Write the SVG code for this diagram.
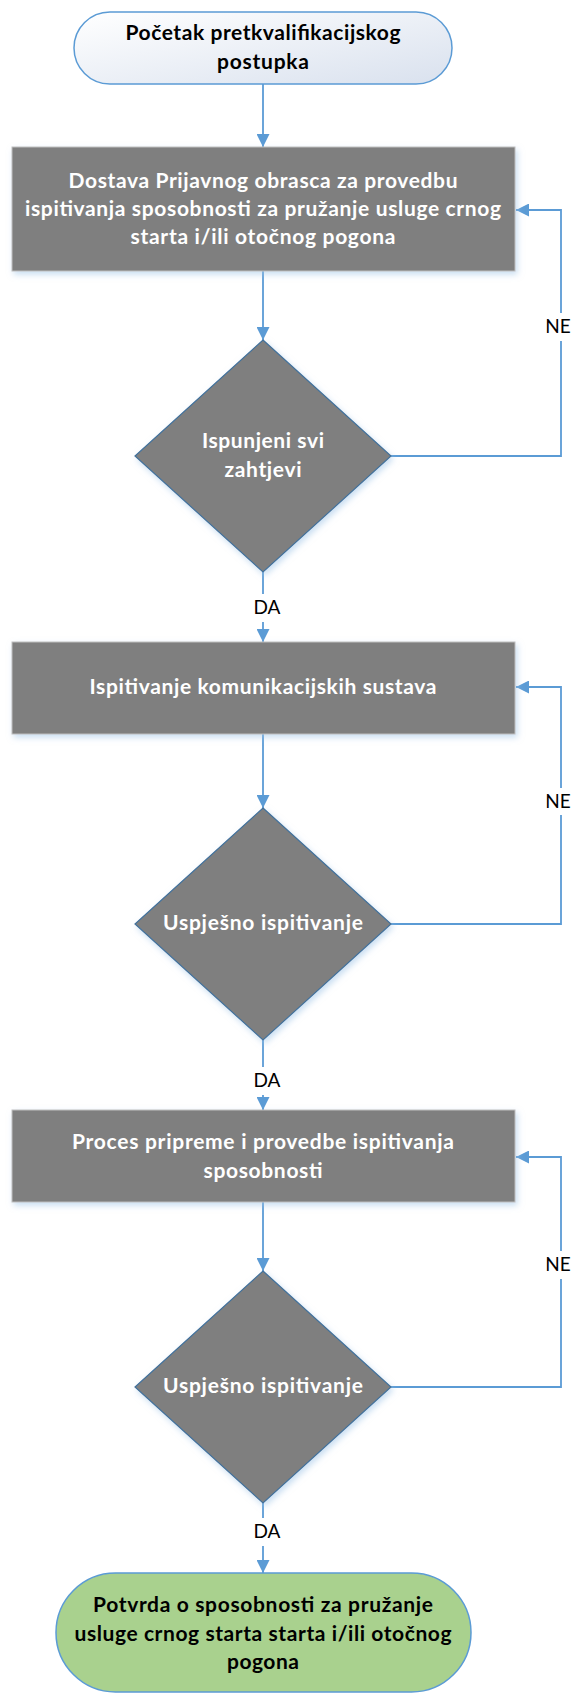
<svg xmlns="http://www.w3.org/2000/svg" width="576" height="1695" viewBox="0 0 576 1695">
<defs>
<linearGradient id="gStart" x1="0" y1="0" x2="1" y2="1">
<stop offset="0" stop-color="#ffffff"/>
<stop offset="1" stop-color="#d9e1ee"/>
</linearGradient>
<filter id="sh" x="-10%" y="-10%" width="125%" height="130%">
<feDropShadow dx="2" dy="3" stdDeviation="3" flood-color="#9dc3e6" flood-opacity="0.55"/>
</filter>
<marker id="arr" markerUnits="userSpaceOnUse" markerWidth="13" markerHeight="13" refX="13" refY="6.5" orient="auto">
<path d="M0,0 L13,6.5 L0,13 z" fill="#5b9bd5"/>
</marker>
</defs>
<style>
.proc{fill:#7f7f7f;stroke:#bfbfbf;stroke-width:1;filter:url(#sh)}
.dec{fill:#7f7f7f;stroke:#41719c;stroke-width:1.2;filter:url(#sh)}
.wt{font-family:Lato,"Liberation Sans",sans-serif;font-weight:bold;font-size:21px;fill:#ffffff;text-anchor:middle}
.bt{font-family:Lato,"Liberation Sans",sans-serif;font-weight:bold;font-size:21px;fill:#000000;text-anchor:middle}
.lb{font-family:Lato,"Liberation Sans",sans-serif;font-size:19px;fill:#000000;text-anchor:middle}
.cn{fill:none;stroke:#5b9bd5;stroke-width:1.8}
</style>
<g id="connectors">
<path class="cn" d="M263,84 V147" marker-end="url(#arr)"/>
<path class="cn" d="M263,271 V340" marker-end="url(#arr)"/>
<path class="cn" d="M263,572 V594"/>
<path class="cn" d="M263,622 V642" marker-end="url(#arr)"/>
<path class="cn" d="M263,734 V808" marker-end="url(#arr)"/>
<path class="cn" d="M263,1040 V1067"/>
<path class="cn" d="M263,1095 V1110" marker-end="url(#arr)"/>
<path class="cn" d="M263,1202 V1271" marker-end="url(#arr)"/>
<path class="cn" d="M263,1503 V1518"/>
<path class="cn" d="M263,1546 V1573" marker-end="url(#arr)"/>
<path class="cn" d="M391,456 H561 V341"/>
<path class="cn" d="M561,313 V210 H516" marker-end="url(#arr)"/>
<path class="cn" d="M391,924 H561 V815"/>
<path class="cn" d="M561,788 V687 H516" marker-end="url(#arr)"/>
<path class="cn" d="M391,1387 H561 V1279"/>
<path class="cn" d="M561,1251 V1157 H516" marker-end="url(#arr)"/>
<text class="lb" x="267" y="614">DA</text>
<text class="lb" x="267" y="1087">DA</text>
<text class="lb" x="267" y="1538">DA</text>
<text class="lb" x="558" y="333">NE</text>
<text class="lb" x="558" y="808">NE</text>
<text class="lb" x="558" y="1271">NE</text>
</g>
<g id="start">
<rect x="74" y="12" width="378" height="72" rx="36" ry="36" fill="url(#gStart)" stroke="#5b9bd5" stroke-width="1.5"/>
<text class="bt" x="263" y="40" textLength="275" lengthAdjust="spacing">Početak pretkvalifikacijskog</text>
<text class="bt" x="263" y="69" textLength="92" lengthAdjust="spacing">postupka</text>
</g>
<g id="dostava">
<rect class="proc" x="12" y="147" width="503" height="124"/>
<text class="wt" x="263" y="188" textLength="389" lengthAdjust="spacing">Dostava Prijavnog obrasca za provedbu</text>
<text class="wt" x="263" y="216" textLength="476" lengthAdjust="spacing">ispitivanja sposobnosti za pružanje usluge crnog</text>
<text class="wt" x="263" y="244" textLength="265" lengthAdjust="spacing">starta i/ili otočnog pogona</text>
</g>
<g id="zahtjevi">
<polygon class="dec" points="263,340 391,456 263,572 135,456"/>
<text class="wt" x="263" y="448" textLength="122" lengthAdjust="spacing">Ispunjeni svi</text>
<text class="wt" x="263" y="477" textLength="77" lengthAdjust="spacing">zahtjevi</text>
</g>
<g id="komunikacije">
<rect class="proc" x="12" y="642" width="503" height="92"/>
<text class="wt" x="263" y="694" textLength="347" lengthAdjust="spacing">Ispitivanje komunikacijskih sustava</text>
</g>
<g id="uspjesno1">
<polygon class="dec" points="263,808 391,924 263,1040 135,924"/>
<text class="wt" x="263" y="930" textLength="200" lengthAdjust="spacing">Uspješno ispitivanje</text>
</g>
<g id="proces">
<rect class="proc" x="12" y="1110" width="503" height="92"/>
<text class="wt" x="263" y="1149" textLength="382" lengthAdjust="spacing">Proces pripreme i provedbe ispitivanja</text>
<text class="wt" x="263" y="1178" textLength="119" lengthAdjust="spacing">sposobnosti</text>
</g>
<g id="uspjesno2">
<polygon class="dec" points="263,1271 391,1387 263,1503 135,1387"/>
<text class="wt" x="263" y="1393" textLength="200" lengthAdjust="spacing">Uspješno ispitivanje</text>
</g>
<g id="potvrda">
<rect x="56" y="1573" width="415" height="119" rx="59.5" ry="59.5" fill="#a9d18e" stroke="#5b9bd5" stroke-width="1.5"/>
<text class="bt" x="263" y="1612" textLength="340" lengthAdjust="spacing">Potvrda o sposobnosti za pružanje</text>
<text class="bt" x="263" y="1641" textLength="377" lengthAdjust="spacing">usluge crnog starta starta i/ili otočnog</text>
<text class="bt" x="263" y="1669" textLength="72" lengthAdjust="spacing">pogona</text>
</g>
</svg>
